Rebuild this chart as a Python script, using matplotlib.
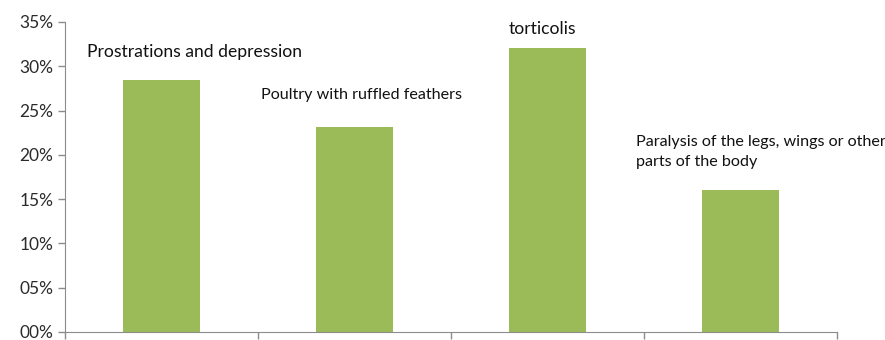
import matplotlib.pyplot as plt
import numpy as np
from matplotlib.ticker import FuncFormatter

symptoms = ["Prostrations and depression",
            "Poultry with ruffled feathers",
            "torticolis",
            "Paralysis of the legs, wings or other\nparts of the body"]
share = [28.5, 23.1, 32.1, 16.0]
yticks = [0, 5, 10, 15, 20, 25, 30, 35]

plt.rcParams['font.family'] = ['Lato', 'DejaVu Sans']

fig = plt.figure(figsize=(8.85, 3.4), dpi=100)
ax = fig.add_axes([65/885, 8/340, 772/885, 310/340])

x = np.arange(len(share))
ax.bar(x, share, width=0.4, color='#9bbb59')

ax.set_xlim(-0.5, len(share) - 0.5)
ax.set_ylim(0, 35)
ax.set_yticks(yticks)
ax.yaxis.set_major_formatter(FuncFormatter(lambda v, p: '%02d%%' % v))
ax.set_xticks(np.arange(-0.5, len(share)))
ax.set_xticklabels([])

for s in ['top', 'right']:
    ax.spines[s].set_visible(False)
for s in ['left', 'bottom']:
    ax.spines[s].set_color('#8c8c8c')
ax.tick_params(axis='both', colors='#8c8c8c', length=5, width=1,
               labelcolor='#2b2b2b', labelsize=12.5)

# category names written above the bars
offsets = [(-0.386, 31.6), (-0.485, 26.8), (-0.2, 34.2), (-0.54, 20.3)]
sizes = [12.6, 11.6, 12.6, 11.6]
for i, (name, (dx, yy)) in enumerate(zip(symptoms, offsets)):
    ax.text(i + dx, yy, name, ha='left', va='center', fontsize=sizes[i],
            color='#111111', clip_on=False, linespacing=1.5)

fig.savefig('out.png', dpi=100)
